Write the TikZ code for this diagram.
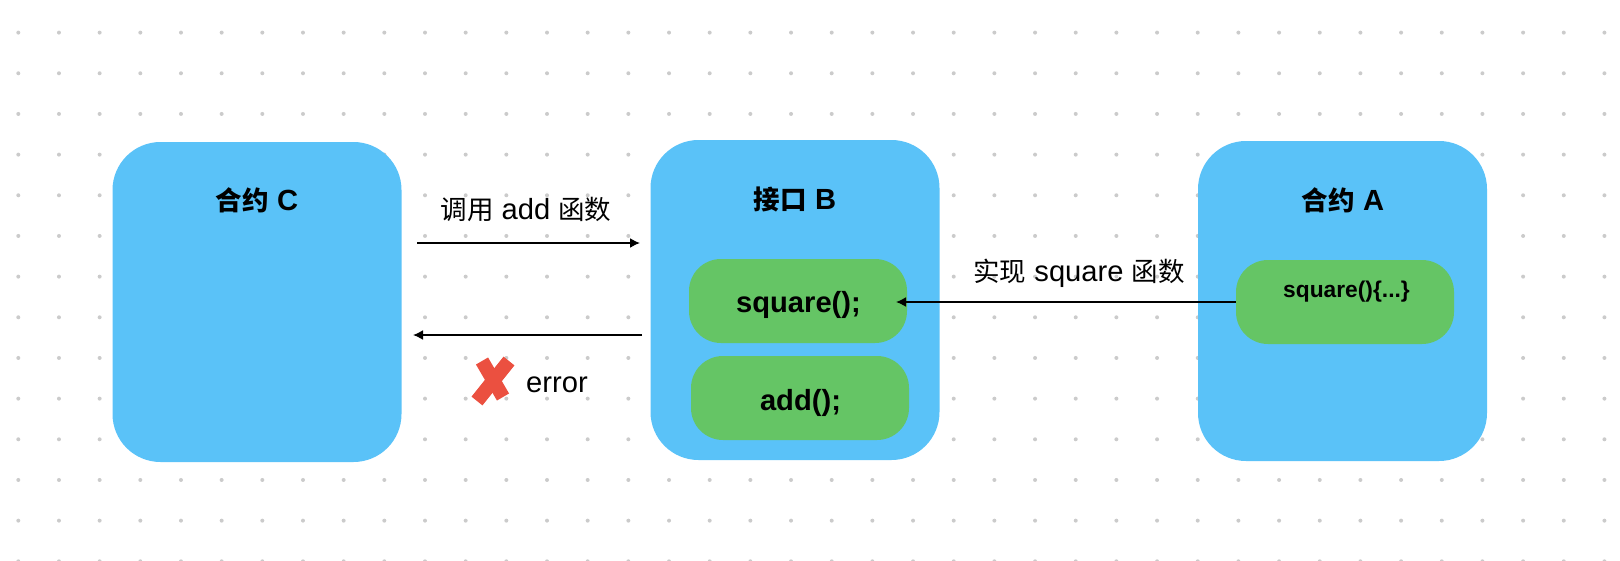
\documentclass[tikz,border=0pt]{standalone}
\usepackage{fontspec}
\setmainfont{Liberation Sans}[Scale=1.1]
\newfontfamily\cjkfont{Noto Sans CJK SC}
\usetikzlibrary{arrows.meta}

\definecolor{boxblue}{HTML}{5AC2F8}
\definecolor{boxgreen}{HTML}{65C565}
\definecolor{crossred}{HTML}{EB5040}
\definecolor{dotgray}{HTML}{CBCBCB}

\tikzset{
  outer box/.style={fill=boxblue,rounded corners=48pt,minimum width=289pt,minimum height=320pt,inner sep=0pt},
  func box/.style={fill=boxgreen,rounded corners=32pt,minimum width=218pt,minimum height=84pt,inner sep=0pt},
  title text/.style={font=\fontsize{26.5}{30}\selectfont\bfseries,inner sep=0pt},
  func text/.style={font=\fontsize{26.5}{30}\selectfont\bfseries,inner sep=0pt},
  label text/.style={font=\fontsize{26.5}{32}\selectfont,inner sep=0pt},
  call arrow/.style={-{Latex[length=10pt,width=10pt]},line width=1.6pt}
}

\begin{document}
\begin{tikzpicture}[x=1pt,y=-1pt]
  \useasboundingbox (0,0) rectangle (1620,560);

  % dotted background
  \foreach \i in {0,...,39}
    \foreach \j in {0,...,13}
      \fill[dotgray] (18.3+40.67*\i,32.6+40.67*\j) circle (2pt);

  \node[outer box] (C) at (257,302) {};
  \node[outer box] (B) at (795,300) {};
  \node[outer box] (A) at (1342.5,301) {};

  \node[title text] (Ctitle) at (257,200) {{\cjkfont 合约} C};
  \node[title text] (Btitle) at (795,199) {{\cjkfont 接口} B};
  \node[title text] (Atitle) at (1343,200) {{\cjkfont 合约} A};

  \node[func box] (squareB) at (798,301) {};
  \node[func box] (addB) at (800,398) {};
  \node[func box] (squareA) at (1345,302) {};

  \node[func text] (squareBtext) at (798.5,305) {square();};
  \node[func text] (addBtext) at (800.5,403) {add();};
  \node[inner sep=0pt,font=\fontsize{20.7}{24}\selectfont\bfseries] (squareAtext) at (1346.5,292) {square()\{...\}};

  % free ends of the arrows
  \coordinate (callstart) at (417,243);
  \coordinate (callend) at (640,243);
  \coordinate (errstart) at (642,335);
  \coordinate (errend) at (413,335);
  \coordinate (implend) at (896,302);

  \draw[call arrow] (callstart) -- (callend);
  \draw[call arrow] (errstart) -- (errend);
  \draw[call arrow] (squareA.west) -- (implend);

  \node[label text] (calllabel) at (526,209) {{\cjkfont 调用} add {\cjkfont 函数}};
  \node[label text] (impllabel) at (1079,273) {{\cjkfont 实现} square {\cjkfont 函数}};
  \node[label text] (errlabel) at (557,385) {error};

  % red cross
  \draw[crossred,line width=14pt] (482,361) -- (503,397);
  \draw[crossred,line width=14pt] (509,361) -- (477,401);
\end{tikzpicture}
\end{document}
